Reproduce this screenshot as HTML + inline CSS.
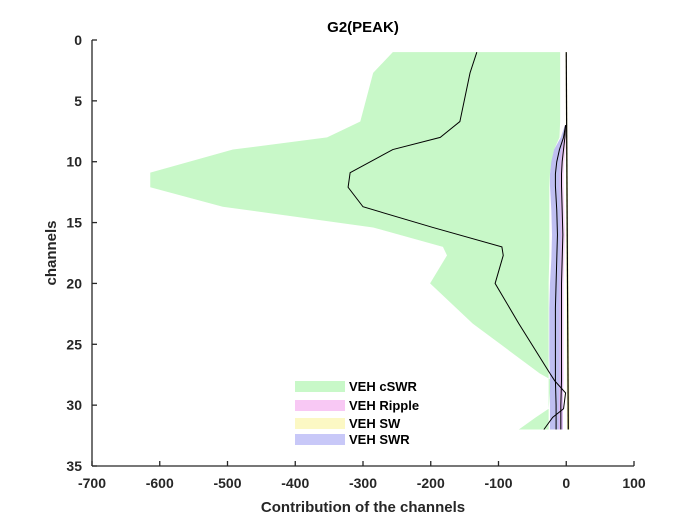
<!DOCTYPE html>
<html><head><meta charset="utf-8"><style>
body{margin:0;background:#fff;}
svg{display:block;font-family:"Liberation Sans",Arial,sans-serif;}
</style></head><body>
<svg id="chart" width="700" height="525" xmlns="http://www.w3.org/2000/svg"></svg>
<script>
const channels=[1,2.7,6.7,8,9,10.9,12.1,13.7,15.4,17,17.7,20,23.3,27.4,28,29,30.3,31,32];
const cswrLow=[-256,-285,-304,-353,-492,-614,-614,-507,-285,-182,-176,-201,-138,-39,-20,-24,-26,-45,-70];
const cswrHigh=[-9,-9,-9,-10,-18,-24,-25,-25,-25,-25,-25,-26,-26,-26,-26,-26,-26,-26,-26];
const cswrMean=[-132,-142,-157,-186,-256,-319,-322,-300,-197,-95,-93,-105,-70,-24,-17,-1,-4,-20,-33];
const swrCh=[7,8,9,10,11,12,14,16,18,20,22,24,26,28,30,32];
const swrLow=[-2,-8,-18,-22,-24,-24,-22,-21,-22,-24,-25,-25,-25,-24,-24,-24];
const swrHigh=[-1,-2,-4,-6,-6,-6,-5,-5,-5,-6,-6,-6,-6,-5,-5,-5];
const swrMean=[-1,-4,-10,-14,-16,-16,-14,-13,-14,-15,-16,-16,-16,-16,-15,-15];
const ripMean=[-1,-2,-4,-6,-7,-7,-6,-5,-6,-7,-7,-7,-7,-7,-8,-8];
const ripLow=[-2,-4,-7,-9,-10,-10,-9,-8,-9,-10,-10,-10,-10,-10,-11,-11];
const ripHigh=[0,0,-1,-3,-4,-4,-3,-2,-3,-4,-4,-4,-4,-4,-5,-5];
const swLineCh=[1,32];
const swMean=[0,3];
const swLow=[-1,1];
const swHigh=[1,5];
const xTicks=[-700,-600,-500,-400,-300,-200,-100,0,100];
const yTicks=[0,5,10,15,20,25,30,35];

const L=92,R=634,T=40,B=466;
const sx=v=>L+(v+700)/800*(R-L);
const sy=v=>T+v/35*(B-T);
const svg=document.getElementById('chart');
const NS='http://www.w3.org/2000/svg';
function mk(tag,attrs,name,parent){const e=document.createElementNS(NS,tag);for(const k in attrs)e.setAttribute(k,attrs[k]);


(parent||svg).appendChild(e);return e;}
function band(ch,lo,hi){let p=ch.map((c,i)=>sx(lo[i])+','+sy(c));for(let i=ch.length-1;i>=0;i--)p.push(sx(hi[i])+','+sy(ch[i]));return p.join(' ');}
function line(ch,v){return ch.map((c,i)=>sx(v[i])+','+sy(c)).join(' ');}

mk('polygon',{points:band(channels,cswrLow,cswrHigh),fill:'#c8f8c8'},'vehcswr-band');
mk('polygon',{points:band(swrCh,swrLow,swrHigh),fill:'#b8b8f0',opacity:0.9},'vehswr-band');
mk('polygon',{points:band(swrCh,ripLow,ripHigh),fill:'#f0b8f0',opacity:0.6},'vehripple-band');
mk('polygon',{points:band(swLineCh,swLow,swHigh),fill:'#f8f4b8'},'vehsw-band');
mk('polyline',{points:line(channels,cswrMean),fill:'none',stroke:'#000','stroke-width':1},'vehcswr-mean-line');
mk('polyline',{points:line(swrCh,swrMean),fill:'none',stroke:'#000','stroke-width':1},'vehswr-mean-line');
mk('polyline',{points:line(swrCh,ripMean),fill:'none',stroke:'#000','stroke-width':1},'vehripple-mean-line');
mk('polyline',{points:line(swLineCh,swMean),fill:'none',stroke:'#000','stroke-width':1.2},'vehsw-mean-line');

mk('line',{x1:L,y1:T,x2:L,y2:B,stroke:'#262626','stroke-width':1.3},'y-axis-line');
mk('line',{x1:L,y1:B,x2:R,y2:B,stroke:'#262626','stroke-width':1.3},'x-axis-line');
xTicks.forEach(t=>{const x=sx(t);
mk('line',{x1:x,y1:B,x2:x,y2:B-5,stroke:'#262626','stroke-width':1.3},'x-tick');
const tx=mk('text',{x:x,y:B+22,'text-anchor':'middle','font-size':14,'font-weight':'bold',fill:'#262626'},'x-tick-label');tx.textContent=t;});
yTicks.forEach(t=>{const y=sy(t);
mk('line',{x1:L,y1:y,x2:L+5,y2:y,stroke:'#262626','stroke-width':1.3},'y-tick');
const tx=mk('text',{x:L-10,y:y+5,'text-anchor':'end','font-size':14,'font-weight':'bold',fill:'#262626'},'y-tick-label');tx.textContent=t;});
let t=mk('text',{x:363,y:512,'text-anchor':'middle','font-size':15,'font-weight':'bold',fill:'#262626'},'x-axis-title');t.textContent='Contribution of the channels';
t=mk('text',{x:56,y:253,'text-anchor':'middle','font-size':15,'font-weight':'bold',fill:'#262626',transform:'rotate(-90 56 253)'},'y-axis-title');t.textContent='channels';
t=mk('text',{x:363,y:32,'text-anchor':'middle','font-size':15,'font-weight':'bold',fill:'#000'},'chart-title');t.textContent='G2(PEAK)';

const legNames=['VEH cSWR','VEH Ripple','VEH SW','VEH SWR'];
const legColors=['#c8f8c8','#f8c8f4','#fcf8c4','#c8c8f8'];
const legY=[381,400,418,434];
const lg=mk('g',{},'legend');
legNames.forEach((n,i)=>{
mk('rect',{x:295,y:legY[i],width:50,height:11,fill:legColors[i]},'legend-swatch',lg);
const tx=mk('text',{x:349,y:legY[i]+10,'font-size':13,'font-weight':'bold',fill:'#000'},'legend-label',lg);tx.textContent=n;});
</script>
</body></html>
